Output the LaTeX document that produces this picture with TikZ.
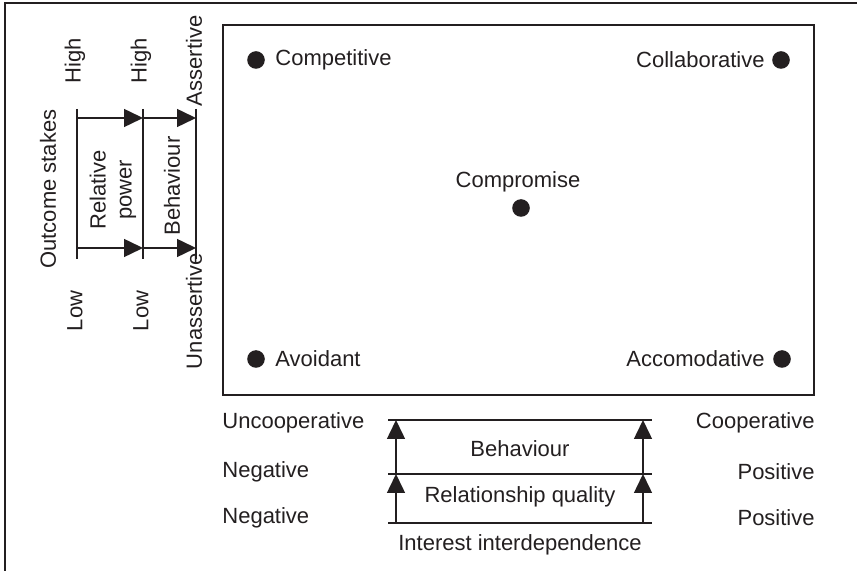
\documentclass[tikz,border=0pt]{standalone}
\usepackage{fontspec}
\setmainfont{Liberation Sans}
\usetikzlibrary{arrows.meta}
\definecolor{ink}{HTML}{231F20}
\begin{document}
\begin{tikzpicture}[x=0.5pt,y=-0.5pt,
  font=\fontsize{11}{13}\selectfont,
  frame/.style={line width=0.8pt, draw=ink},
  axis/.style={line width=0.75pt, draw=ink},
  tip/.style={axis, -{Triangle[length=9.5pt,width=9pt]}},
  dot/.style={circle, fill=ink, inner sep=0pt, minimum size=8.8pt},
  lbl/.style={inner sep=0pt, text=ink},
  vlbl/.style={lbl, rotate=90}]
\useasboundingbox (0,0) rectangle (857,571);

% outer frame (top and left edges) and the style grid
\draw[frame] (5,571) -- (5,3) -- (857,3);
\draw[frame] (223,25) rectangle (814,395);

% conflict styles
\node[dot] (dcompet) at (256,60) {};
\node[lbl, anchor=west] (tcompet) at (275,60) {Competitive};
\node[dot] (dcollab) at (781,60) {};
\node[lbl, anchor=east] (tcollab) at (765,60) {Collaborative};
\node[lbl] (tcompro) at (518,182) {Compromise};
\node[dot] (dcompro) at (521,208) {};
\node[dot] (davoid) at (256,359) {};
\node[lbl, anchor=west] (tavoid) at (275,359) {Avoidant};
\node[dot] (daccom) at (782,359) {};
\node[lbl, anchor=east] (taccom) at (765,359) {Accomodative};

% vertical scale: outcome stakes -> relative power -> behaviour
\coordinate (l1t) at (77,109);  \coordinate (l1b) at (77,259);
\coordinate (l2t) at (143,109); \coordinate (l2b) at (143,259);
\coordinate (l3t) at (196,109); \coordinate (l3b) at (196,259);
\draw[axis] (l1t) -- (l1b);
\draw[axis] (l2t) -- (l2b);
\draw[axis] (l3t) -- (l3b);
\coordinate (h1) at (77,118);  \coordinate (h2) at (143,118); \coordinate (h3) at (196,118);
\coordinate (g1) at (77,248);  \coordinate (g2) at (143,248); \coordinate (g3) at (196,248);
\draw[tip] (h1) -- (h2);
\draw[tip] (h2) -- (h3);
\draw[tip] (g1) -- (g2);
\draw[tip] (g2) -- (g3);

\node[vlbl] (high1) at (75,61) {High};
\node[vlbl] (high2) at (141,61) {High};
\node[vlbl] (assert) at (194,61) {Assertive};
\node[vlbl] (low1) at (75,311) {Low};
\node[vlbl] (low2) at (141,311) {Low};
\node[vlbl] (unassert) at (194,311) {Unassertive};
\node[vlbl] (stakes) at (48,189) {Outcome stakes};
\node[vlbl, align=center] (power) at (113,190) {Relative\\power};
\node[vlbl] (vbehav) at (172,186) {Behaviour};

% horizontal scale: interest interdependence -> relationship quality -> behaviour
\coordinate (r1l) at (388,420); \coordinate (r1r) at (652,420);
\coordinate (r2l) at (388,474); \coordinate (r2r) at (652,474);
\coordinate (r3l) at (388,523); \coordinate (r3r) at (652,523);
\draw[axis] (r1l) -- (r1r);
\draw[axis] (r2l) -- (r2r);
\draw[axis] (r3l) -- (r3r);
\coordinate (la) at (396,523); \coordinate (lb) at (396,474); \coordinate (lc) at (396,420);
\coordinate (ra) at (643,523); \coordinate (rb) at (643,474); \coordinate (rc) at (643,420);
\draw[tip] (la) -- (lb);
\draw[tip] (lb) -- (lc);
\draw[tip] (ra) -- (rb);
\draw[tip] (rb) -- (rc);

\node[lbl, anchor=west] (uncoop) at (222,423) {Uncooperative};
\node[lbl, anchor=west] (neg1) at (222,472) {Negative};
\node[lbl, anchor=west] (neg2) at (222,518) {Negative};
\node[lbl, anchor=east] (coop) at (815,423) {Cooperative};
\node[lbl, anchor=east] (pos1) at (815,472) {Positive};
\node[lbl, anchor=east] (pos2) at (815,518) {Positive};
\node[lbl] (hbehav) at (520,449) {Behaviour};
\node[lbl] (relq) at (520,497) {Relationship quality};
\node[lbl] (inter) at (520,545) {Interest interdependence};
\end{tikzpicture}
\end{document}
